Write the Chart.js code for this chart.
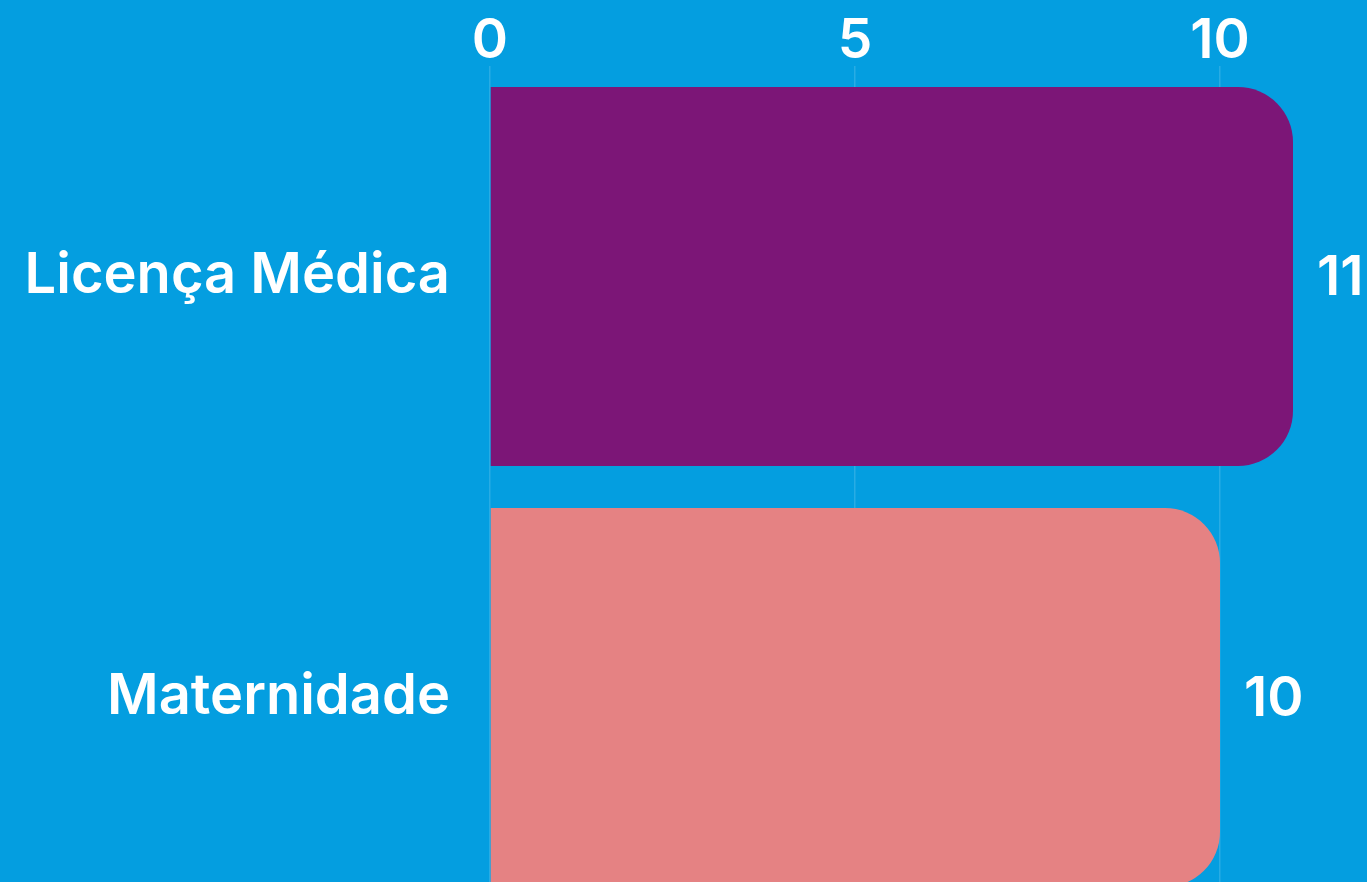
<!DOCTYPE html>
<html>
<head>
<meta charset="utf-8">
<script src="https://cdn.jsdelivr.net/npm/chart.js@4/dist/chart.umd.min.js"></script>
<style>
  html, body { margin: 0; padding: 0; background: #049EE0; overflow: hidden; }
  #chart { display: block; width: 1367px; height: 910px; }
</style>
</head>
<body>
<canvas id="chart" width="1367" height="910"></canvas>
<script>
// data
const categories = ['Licença Médica', 'Maternidade'];
const values = [11, 10];
const barColors = ['#7C1677', '#E58283'];
const xTicks = [0, 5, 10];

const FONT = 'Inter, "Noto Sans", sans-serif';

// value labels to the right of each bar
const valueLabels = {
  id: 'valueLabels',
  afterDatasetsDraw(chart) {
    const ctx = chart.ctx;
    const meta = chart.getDatasetMeta(0);
    ctx.save();
    ctx.fillStyle = '#ffffff';
    ctx.font = '600 55px ' + FONT;
    ctx.textAlign = 'left';
    ctx.textBaseline = 'middle';
    meta.data.forEach((bar, i) => {
      ctx.fillText(String(values[i]), bar.x + 24, bar.y + 2);
    });
    ctx.restore();
  }
};

new Chart(document.getElementById('chart'), {
  type: 'bar',
  data: {
    labels: categories,
    datasets: [{
      data: values,
      backgroundColor: barColors,
      borderRadius: 55,
      borderSkipped: 'start',
      barPercentage: 0.9,
      categoryPercentage: 1.0
    }]
  },
  options: {
    indexAxis: 'y',
    responsive: false,
    animation: false,
    layout: { padding: { left: 0, right: 74, top: 0, bottom: 2 } },
    plugins: {
      legend: { display: false },
      tooltip: { enabled: false }
    },
    scales: {
      x: {
        position: 'top',
        min: 0,
        max: 11,
        afterBuildTicks(scale) {
          scale.ticks = xTicks.map(v => ({ value: v }));
        },
        afterFit(scale) { scale.height = 66; },
        grid: { color: 'rgba(255,255,255,0.15)', lineWidth: 1.5, drawTicks: false },
        border: { display: false },
        ticks: {
          color: '#ffffff',
          font: { family: FONT, size: 55, weight: '600', lineHeight: 1.2 },
          padding: -8,
          maxRotation: 0
        }
      },
      y: {
        afterFit(scale) {
          scale.width = 490;
          scale.paddingTop = 0;
          scale.paddingBottom = 0;
        },
        grid: { display: false, drawTicks: false },
        border: { display: false },
        ticks: {
          color: '#ffffff',
          font: { family: FONT, size: 56, weight: '600' },
          padding: 40
        }
      }
    }
  },
  plugins: [valueLabels]
});
</script>
</body>
</html>
